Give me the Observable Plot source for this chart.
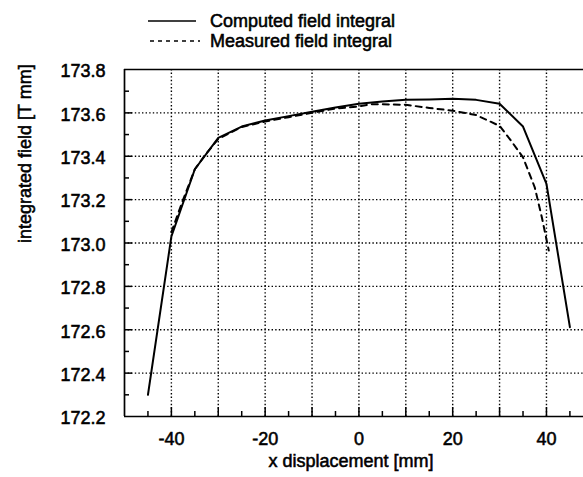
<!DOCTYPE html>
<html><head><meta charset="utf-8">
<script src="https://cdn.jsdelivr.net/npm/d3@7"></script>
<script src="https://cdn.jsdelivr.net/npm/@observablehq/plot@0.6"></script>
<style>
body{margin:0;background:#fff;font-family:"Liberation Sans",Arial,Helvetica,sans-serif;}
#legend{height:58px;position:relative}
svg text{stroke:#000;stroke-width:0.55px;}
</style></head><body>
<div id="legend"></div>
<div id="chart"></div>
<script>
// Data
const seriesNames = ["Computed field integral", "Measured field integral"];
const xComputed = [-45, -40, -35, -30, -25, -20, -15, -10, -5, 0, 5, 10, 15, 20, 25, 30, 35, 40, 45];
const yComputed = [172.30, 173.03, 173.34, 173.485, 173.537, 173.565, 173.585, 173.605, 173.625, 173.642, 173.652, 173.66, 173.662, 173.665, 173.66, 173.642, 173.537, 173.273, 172.612];
const xMeasured = [-40, -37.5, -35, -33, -30, -25, -20, -15, -10, -5, 0, 2.5, 5, 10, 15, 20, 25, 30, 32.5, 35, 37.5, 39, 40.5];
const yMeasured = [173.05, 173.20, 173.34, 173.40, 173.48, 173.535, 173.56, 173.58, 173.60, 173.62, 173.63, 173.64, 173.64, 173.637, 173.623, 173.61, 173.59, 173.54, 173.47, 173.395, 173.257, 173.12, 172.965];

const xTickLabels = [-40, -20, 0, 20, 40];
const yTickLabels = [172.2, 172.4, 172.6, 172.8, 173.0, 173.2, 173.4, 173.6, 173.8];
const xGrid = [-40, -30, -20, -10, 0, 10, 20, 30, 40];
const yGrid = [172.4, 172.6, 172.8, 173.0, 173.2, 173.4, 173.6];
const xMajorTicks = [-40, -30, -20, -10, 0, 10, 20, 30, 40];
const xMinorTicks = [-45, -35, -25, -15, -5, 5, 15, 25, 35, 45];
const yMajorTicks = [172.4, 172.6, 172.8, 173.0, 173.2, 173.4, 173.6];
const yMinorTicks = [172.3, 172.5, 172.7, 172.9, 173.1, 173.3, 173.5, 173.7];
const xDomain = [-50, 47.9];
const yDomain = [172.2, 173.8];
const xTitle = "x displacement [mm]";
const yTitle = "integrated field [T mm]";

const computed = xComputed.map((x, i) => ({x, y: yComputed[i]}));
const measured = xMeasured.map((x, i) => ({x, y: yMeasured[i]}));

// Legend (above the plot SVG)
const leg = d3.select("#legend").append("svg").attr("width", 583).attr("height", 58)
  .style("font-family", '"Liberation Sans",Arial,Helvetica,sans-serif').style("font-size", "18px");
const legRows = [{y: 21, dash: null, x1: 148, x2: 196}, {y: 41, dash: "4,4", x1: 150, x2: 200}];
legRows.forEach((r, i) => {
  leg.append("line").attr("x1", r.x1).attr("x2", r.x2).attr("y1", r.y).attr("y2", r.y)
    .attr("stroke", "#000").attr("stroke-width", 1.6).attr("stroke-dasharray", r.dash);
  leg.append("text").attr("x", 210).attr("y", r.y + 6).attr("fill", "#000").text(seriesNames[i]);
});

const W = 583, H = 419, mL = 124, mR = 0, mT = 11, mB = 61;
const frameW = W - mL - mR, frameH = H - mT - mB;
const gridStyle = {stroke: "#000", strokeOpacity: 1, strokeWidth: 1.4, strokeDasharray: "1.4,2.2"};
const tick = (len, horiz) => horiz
  ? {stroke: "#000", strokeWidth: 1.5, insetRight: frameW - len}
  : {stroke: "#000", strokeWidth: 1.5, insetTop: frameH - len};

const plot = Plot.plot({
  width: W, height: H,
  marginLeft: mL, marginRight: mR, marginTop: mT, marginBottom: mB,
  x: {domain: xDomain},
  y: {domain: yDomain},
  style: {fontFamily: '"Liberation Sans",Arial,Helvetica,sans-serif', fontSize: "18px", color: "#000", background: "#fff", overflow: "visible"},
  marks: [
    Plot.gridX(xGrid, gridStyle),
    Plot.gridY(yGrid, gridStyle),
    // inward ticks from the bottom and left frame edges
    Plot.ruleX(xMajorTicks, tick(9, false)),
    Plot.ruleX(xMinorTicks, tick(5, false)),
    Plot.ruleY(yMajorTicks, tick(8, true)),
    Plot.ruleY(yMinorTicks, tick(5, true)),
    Plot.axisX(xTickLabels, {anchor: "bottom", tickSize: 0, tickPadding: 16, label: null, tickFormat: d => String(d)}),
    Plot.axisY(yTickLabels, {anchor: "left", tickSize: 0, tickPadding: 19, dy: 2, label: null, tickFormat: d => d.toFixed(1)}),
    Plot.ruleX([xDomain[0]], {stroke: "#000", strokeWidth: 1.7}),
    Plot.ruleY(yDomain, {stroke: "#000", strokeWidth: 1.7}),
    Plot.line(computed, {x: "x", y: "y", stroke: "#000", strokeWidth: 2}),
    Plot.line(measured, {x: "x", y: "y", stroke: "#000", strokeWidth: 2, strokeDasharray: "6,5"}),
    Plot.text([xTitle], {frameAnchor: "bottom", dy: 50, dx: -3, fill: "#000"}),
    Plot.text([yTitle], {frameAnchor: "left", dx: -99, rotate: -90, fill: "#000"})
  ]
});
document.getElementById("chart").appendChild(plot);
</script>
</body></html>
